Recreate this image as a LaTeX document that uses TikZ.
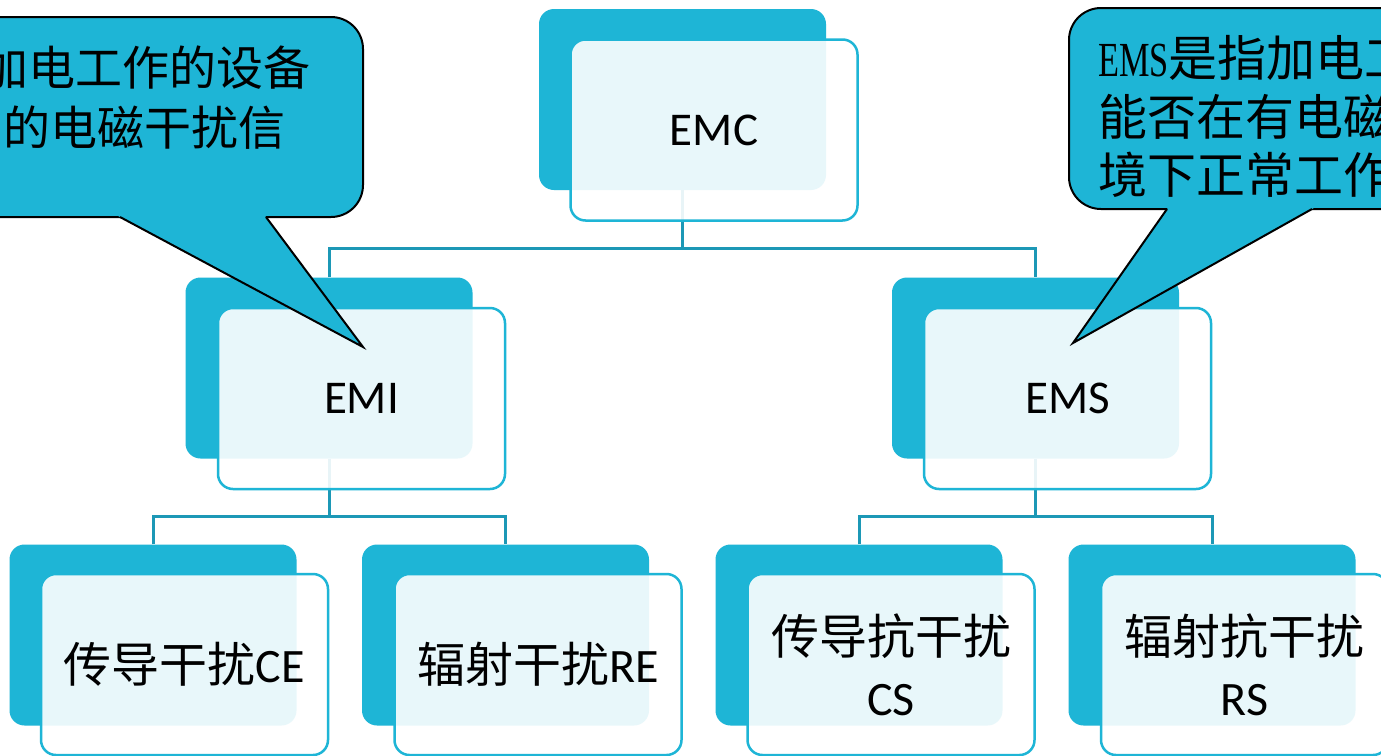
\documentclass[tikz,border=0pt]{standalone}
\usepackage{fontspec}
\setmainfont{Carlito}
\newfontfamily\cjk{Noto Sans CJK SC}
\newfontfamily\narrowserif[FakeStretch=0.7]{Liberation Serif}
\definecolor{diagcyan}{RGB}{30,181,214}
\definecolor{linkcol}{RGB}{28,152,182}
\tikzset{
  backbox/.style={fill=diagcyan, rounded corners=15pt, minimum width=287pt,
    minimum height=181pt, inner sep=0pt},
  frontbox/.style={draw=diagcyan, line width=2.5pt, fill=white, fill opacity=0.9,
    text opacity=1, rounded corners=15pt, minimum width=287pt, minimum height=181pt,
    inner sep=0pt, align=center, font=\fontsize{47}{63}\selectfont},
  conn/.style={draw=linkcol, line width=3pt},
  bubble/.style={fill=diagcyan, draw=black, line width=2pt},
  bubbletext/.style={anchor=west, inner sep=0pt, text=black},
}
\begin{document}
\begin{tikzpicture}[x=1pt, y=-1pt]
\clip (0,0) rectangle (1381,755);
\fill[white] (0,0) rectangle (1381,755);

% back panels
\node[backbox] (emcb) at (682.5,99.5) {};
\node[backbox] (emib) at (329,368) {};
\node[backbox] (emsb) at (1035.5,368) {};
\node[backbox] (ceb) at (153,635) {};
\node[backbox] (reb) at (505.5,635) {};
\node[backbox] (csb) at (859,635) {};
\node[backbox] (rsb) at (1212,635) {};

% tree connectors
\coordinate (j0) at (682.5,248);
\coordinate (j1) at (329,516);
\coordinate (j2) at (1035.5,516);
\draw[conn] (emcb.south) -- (j0);
\draw[conn] (emib.north) |- (j0) -| (emsb.north);
\draw[conn] (emib.south) -- (j1);
\draw[conn] (ceb.north) |- (j1) -| (reb.north);
\draw[conn] (emsb.south) -- (j2);
\draw[conn] (csb.north) |- (j2) -| (rsb.north);

% front panels with labels
\node[frontbox] (emc) at (714,130) {EMC};
\node[frontbox] (emi) at (361.5,398.5) {EMI};
\node[frontbox] (ems) at (1067.5,398.5) {EMS};
\node[frontbox, font=\fontsize{48}{63}\selectfont] (ce) at (184.5,664.5) {{\cjk 传导干扰}CE};
\node[frontbox, font=\fontsize{48}{63}\selectfont] (re) at (538,664.5) {{\cjk 辐射干扰}RE};
\node[frontbox, font=\fontsize{48}{63}\selectfont] (cs) at (891,664.5) {{\cjk 传导抗干扰}\\[-2pt]CS};
\node[frontbox, font=\fontsize{48}{63}\selectfont] (rs) at (1244.5,664.5) {{\cjk 辐射抗干扰}\\[-2pt]RS};

% left speech bubble
\draw[bubble, rounded corners=32pt] (-60,17) rectangle (363,217);
\fill[diagcyan] (114.4,214) -- (263.8,214) -- (363,347) -- cycle;
\draw[black, line width=2pt, line join=miter, miter limit=25] (120,217) -- (363,347) -- (266,217);
\node[bubbletext, font=\cjk\fontsize{47}{56}\selectfont] (emil1) at (-19,68) {加电工作的设备};
\node[bubbletext, font=\cjk\fontsize{47}{56}\selectfont] (emil2) at (3,128) {的电磁干扰信};

% right speech bubble
\draw[bubble, rounded corners=32pt] (1069,8) rectangle (1460,209);
\fill[diagcyan] (1169.1,206) -- (1317.4,206) -- (1073,343) -- cycle;
\draw[black, line width=2pt, line join=miter, miter limit=25] (1167,209) -- (1073,343) -- (1312,209);
\node[bubbletext, font=\cjk\fontsize{49}{58}\selectfont] (emsl1) at (1098,58) {{\narrowserif EMS}是指加电工};
\node[bubbletext, font=\cjk\fontsize{49}{58}\selectfont] (emsl2) at (1098,117) {能否在有电磁};
\node[bubbletext, font=\cjk\fontsize{49}{58}\selectfont] (emsl3) at (1098,175) {境下正常工作};
\end{tikzpicture}
\end{document}
